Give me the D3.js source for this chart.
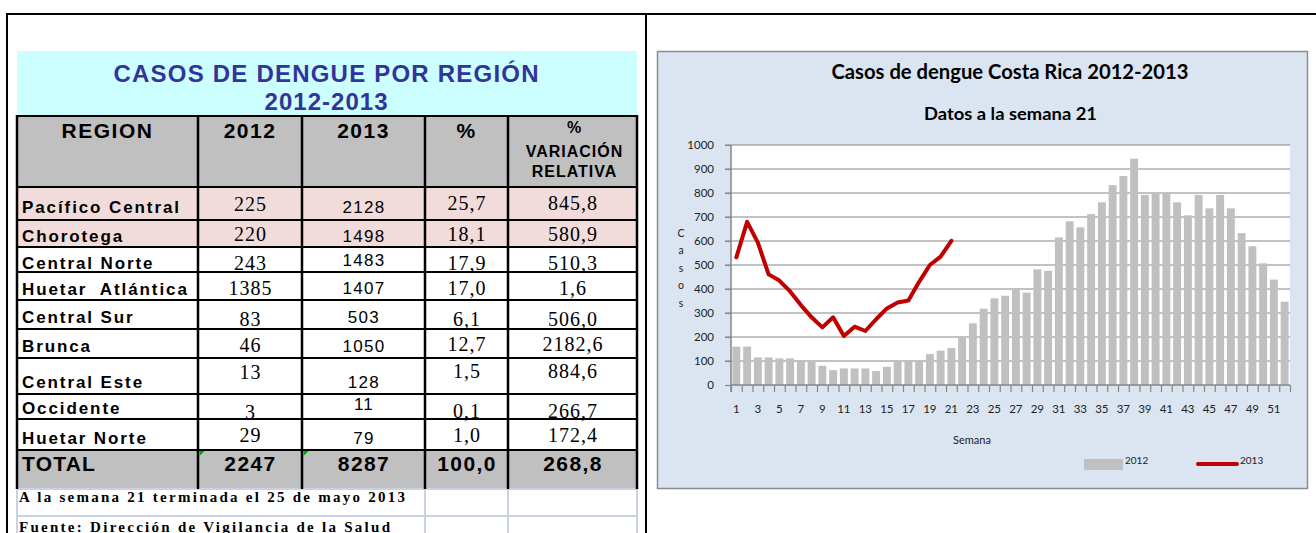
<!DOCTYPE html>
<html>
<head>
<meta charset="utf-8">
<script src="https://cdn.jsdelivr.net/npm/d3@7"></script>
<style>
  html, body { margin: 0; padding: 0; background: #fff; }
  svg { display: block; }
</style>
</head>
<body>
<div id="chart"></div>
<script>
// ---- table data (read from the sheet) ----
const regions = ["Pacífico Central", "Chorotega", "Central Norte", "Huetar  Atlántica", "Central Sur",
                 "Brunca", "Central Este", "Occidente", "Huetar Norte"];
const cases2012 = [225, 220, 243, 1385, 83, 46, 13, 3, 29];
const cases2013 = [2128, 1498, 1483, 1407, 503, 1050, 128, 11, 79];
const pct2013 = ["25,7", "18,1", "17,9", "17,0", "6,1", "12,7", "1,5", "0,1", "1,0"];
const variation = ["845,8", "580,9", "510,3", "1,6", "506,0", "2182,6", "884,6", "266,7", "172,4"];
const totalRow = ["TOTAL", "2247", "8287", "100,0", "268,8"];
const headers = ["REGION", "2012", "2013", "%"];
const headerVar = ["%", "VARIACIÓN", "RELATIVA"];
const notes = ["A la semana 21 terminada el 25 de mayo 2013", "Fuente: Dirección de Vigilancia de la Salud"];

// ---- chart data ----
const weeks = d3.range(1, 53);
const series2012 = [160, 160, 115, 115, 111, 111, 100, 97, 80, 62,
                    69, 69, 69, 58, 76, 100, 104, 97, 129, 143,
                    154, 199, 257, 318, 361, 372, 403, 385, 482, 476,
                    615, 682, 657, 712, 761, 833, 871, 943, 792, 799,
                    799, 761, 707, 792, 736, 792, 736, 633, 578, 507,
                    439, 347];
const series2013 = [532, 680, 593, 461, 435, 390, 333, 282, 240, 282,
                    204, 243, 225, 274, 319, 344, 352, 430, 500, 535, 601];
const yTicks = d3.range(0, 1001, 100);
const xLabels = weeks.filter(w => w % 2 === 1);

const W = 1316, H = 533;
const SANS = "'Liberation Sans', Arial, sans-serif";
const SERIF = "'Liberation Serif', 'Times New Roman', serif";
const CAL = "Lato, 'Open Sans', sans-serif";

const svg = d3.select("#chart").append("svg")
    .attr("width", W)
    .attr("height", H);

svg.append("rect").attr("width", W).attr("height", H).attr("fill", "#fff");

// ================= TABLE =================
const colX = [17, 198, 302, 425, 508, 637];
const rowY = [187, 220, 247, 272, 300, 329, 358, 394, 419, 450, 489];
// baseline offset from row bottom: [name, 2012, 2013, %, var]
const baseOff = [
    [7, 9, 7, 10, 10],
    [5, 6, 5, 6, 6],
    [3.5, 2.5, 6, 2.5, 2.5],
    [5, 5, 6, 5, 5],
    [6.5, 3, 6, 3, 3],
    [6, 6, 6, 7, 7],
    [6, 15, 6, 16, 16],
    [5.5, 0.5, 9, 1, 1],
    [6.5, 8.5, 6.5, 8.5, 8.5],
    [18.5, 18.5, 18.5, 18.5, 18.5]
];
const colMid = i => (colX[i] + colX[i + 1]) / 2;

const table = svg.append("g");

// fills
table.append("rect").attr("x", 17).attr("y", 51).attr("width", 620).attr("height", 65).attr("fill", "#ccffff");
table.append("rect").attr("x", 17).attr("y", 116).attr("width", 620).attr("height", 71).attr("fill", "#c0c0c0");
table.append("rect").attr("x", 17).attr("y", rowY[0]).attr("width", 620).attr("height", rowY[2] - rowY[0]).attr("fill", "#f2dcdb");
table.append("rect").attr("x", 17).attr("y", rowY[9]).attr("width", 620).attr("height", rowY[10] - rowY[9]).attr("fill", "#c0c0c0");

// light grid under the table (notes rows)
const light = "#c8d2e4";
[489, 516].forEach(y => table.append("line")
    .attr("x1", 17).attr("x2", 637).attr("y1", y).attr("y2", y)
    .attr("stroke", light).attr("stroke-width", 2));
[17, 425, 508, 637].forEach(x => table.append("line")
    .attr("x1", x).attr("x2", x).attr("y1", 489).attr("y2", H)
    .attr("stroke", light).attr("stroke-width", 2));

// black borders
[116, 187].concat(rowY.slice(1, 10)).forEach(y => table.append("line")
    .attr("x1", 16).attr("x2", 638).attr("y1", y).attr("y2", y)
    .attr("stroke", "#000").attr("stroke-width", 2));
colX.forEach(x => table.append("line")
    .attr("x1", x).attr("x2", x).attr("y1", 115).attr("y2", 489)
    .attr("stroke", "#000").attr("stroke-width", 2.5));

// green markers on total cells
[1, 2].forEach(i => table.append("path")
    .attr("d", `M${colX[i] + 1.5},${rowY[9] + 1} h5 l-5,5 z`)
    .attr("fill", "#00a000"));

// outer frame
svg.append("line").attr("x1", 6).attr("x2", W).attr("y1", 14).attr("y2", 14).attr("stroke", "#000").attr("stroke-width", 2);
svg.append("line").attr("x1", 7).attr("x2", 7).attr("y1", 14).attr("y2", H).attr("stroke", "#000").attr("stroke-width", 2);
svg.append("line").attr("x1", 646).attr("x2", 646).attr("y1", 14).attr("y2", H).attr("stroke", "#000").attr("stroke-width", 2);

// title
table.append("text").attr("x", 326).attr("y", 82)
    .attr("text-anchor", "middle")
    .style("font-family", SANS).style("font-weight", "bold").style("font-size", "24px")
    .attr("fill", "#333399")
    .attr("textLength", 425).attr("lengthAdjust", "spacing")
    .text("CASOS DE DENGUE POR REGIÓN");
table.append("text").attr("x", 326).attr("y", 110)
    .attr("text-anchor", "middle")
    .style("font-family", SANS).style("font-weight", "bold").style("font-size", "24px")
    .attr("fill", "#333399")
    .attr("textLength", 123).attr("lengthAdjust", "spacing")
    .text("2012-2013");

// headers
headers.forEach((h, i) => table.append("text")
    .attr("x", colMid(i)).attr("y", 137.5)
    .attr("text-anchor", "middle")
    .style("font-family", SANS).style("font-weight", "bold").style("font-size", "21px")
    .style("letter-spacing", "1.5px")
    .text(h));
headerVar.forEach((h, i) => table.append("text")
    .attr("x", colMid(4) + 2).attr("y", [133, 157, 177][i])
    .attr("text-anchor", "middle")
    .style("font-family", SANS).style("font-weight", "bold").style("font-size", "16px")
    .style("letter-spacing", "1px")
    .text(h));

// body rows
const rows = regions.map((r, i) => [r, String(cases2012[i]), String(cases2013[i]), pct2013[i], variation[i]]);

rows.forEach((row, r) => {
    const bottom = rowY[r + 1];
    row.forEach((val, c) => {
        const t = table.append("text").attr("y", bottom - baseOff[r][c]).text(val);
        if (c === 0) {
            t.attr("x", 22)
                .style("font-family", SANS).style("font-weight", "bold").style("font-size", "17px")
                .style("letter-spacing", "1.9px").style("white-space", "pre");
        } else if (c === 2) {
            t.attr("x", colMid(c) + 0.5).attr("text-anchor", "middle")
                .style("font-family", SANS).style("font-size", "17px").style("letter-spacing", "1.3px");
        } else {
            t.attr("x", colMid(c) + 0.5).attr("text-anchor", "middle")
                .style("font-family", SERIF).style("font-size", "20px").style("letter-spacing", "1px");
        }
    });
});

// total row
totalRow.forEach((val, c) => {
    table.append("text")
        .attr("x", c === 0 ? 22 : colMid(c) + 0.5)
        .attr("y", rowY[10] - baseOff[9][c])
        .attr("text-anchor", c === 0 ? "start" : "middle")
        .style("font-family", SANS).style("font-weight", "bold").style("font-size", "21px")
        .style("letter-spacing", c === 0 ? "1.2px" : "1.4px")
        .text(val);
});

// notes
notes.forEach((n, i) => table.append("text")
    .attr("x", 19).attr("y", [502, 531.5][i])
    .style("font-family", SERIF).style("font-weight", "bold").style("font-size", "15px")
    .attr("textLength", [386, 371][i]).attr("lengthAdjust", "spacing")
    .text(n));

// ================= CHART =================
const panel = { x: 657.5, y: 51.5, w: 650, h: 437 };
svg.append("rect")
    .attr("x", panel.x).attr("y", panel.y).attr("width", panel.w).attr("height", panel.h)
    .attr("fill", "#dbe5f1").attr("stroke", "#8c8c8c").attr("stroke-width", 1.5);

const plot = { left: 731, right: 1290, top: 145, bottom: 385 };

const y = d3.scaleLinear().domain([0, 1000]).range([plot.bottom, plot.top]);
const xEdge = d3.scaleLinear().domain([0, 52]).range([plot.left, plot.right]);
const x = d3.scaleBand().domain(weeks).range([plot.left, plot.right])
    .paddingInner(0.26).paddingOuter(0.13);
const xMid = w => x(w) + x.bandwidth() / 2;

const g = svg.append("g");

g.append("rect")
    .attr("x", plot.left).attr("y", plot.top)
    .attr("width", plot.right - plot.left).attr("height", plot.bottom - plot.top)
    .attr("fill", "#fff");

// gridlines
g.append("g")
    .selectAll("line")
    .data(yTicks.filter(d => d > 0))
    .join("line")
    .attr("x1", plot.left - 6).attr("x2", plot.right)
    .attr("y1", d => y(d)).attr("y2", d => y(d))
    .attr("stroke", "#868686").attr("stroke-width", 1.2);

// bars 2012
g.append("g")
    .selectAll("rect")
    .data(series2012)
    .join("rect")
    .attr("x", (d, i) => x(weeks[i]))
    .attr("y", d => y(d))
    .attr("width", x.bandwidth())
    .attr("height", d => y(0) - y(d))
    .attr("fill", "#c0c0c0");

// y axis
const yAxis = g.append("g")
    .attr("transform", `translate(${plot.left},0)`)
    .call(d3.axisLeft(y).tickValues(yTicks).tickFormat(d3.format("d"))
        .tickSize(6).tickPadding(11).tickSizeOuter(0));
yAxis.select(".domain").attr("stroke", "#868686").attr("stroke-width", 1.5)
    .attr("d", `M0,${plot.top}V${plot.bottom + 7}`);
yAxis.selectAll(".tick line").attr("stroke", "#868686").attr("stroke-width", 1.2);
yAxis.selectAll(".tick text")
    .style("font-family", CAL).style("font-size", "11.5px").attr("fill", "#222");

// x axis: boundary ticks
const xTicks = g.append("g")
    .attr("transform", `translate(0,${plot.bottom})`)
    .call(d3.axisBottom(xEdge).tickValues(d3.range(0, 53)).tickSize(7).tickFormat("").tickSizeOuter(0));
xTicks.select(".domain").attr("stroke", "#868686").attr("stroke-width", 1.5)
    .attr("d", `M${plot.left},0H${plot.right}`);
xTicks.selectAll(".tick line").attr("stroke", "#868686").attr("stroke-width", 1.2);

// x axis labels
const xLab = g.append("g")
    .attr("transform", `translate(0,${plot.bottom})`)
    .call(d3.axisBottom(x).tickValues(xLabels).tickSize(0).tickPadding(20));
xLab.select(".domain").remove();
xLab.selectAll(".tick text")
    .style("font-family", CAL).style("font-size", "11.5px").attr("fill", "#222");

// line 2013
const line = d3.line()
    .x((d, i) => xMid(weeks[i]))
    .y(d => y(d));
g.append("path")
    .datum(series2013)
    .attr("d", line)
    .attr("fill", "none")
    .attr("stroke", "#c00000")
    .attr("stroke-width", 4)
    .attr("stroke-linejoin", "round")
    .attr("stroke-linecap", "round");

// titles
g.append("text").attr("x", 831.5).attr("y", 79)
    .style("font-family", CAL).style("font-weight", "bold").style("font-size", "20px")
    .attr("textLength", 357).attr("lengthAdjust", "spacingAndGlyphs")
    .text("Casos de dengue Costa Rica 2012-2013");
g.append("text").attr("x", 924).attr("y", 120)
    .style("font-family", CAL).style("font-weight", "bold").style("font-size", "16.5px")
    .attr("textLength", 173).attr("lengthAdjust", "spacingAndGlyphs")
    .text("Datos a la semana 21");

// y axis label, stacked letters
g.append("g")
    .selectAll("text")
    .data("Casos".split(""))
    .join("text")
    .attr("x", 681).attr("y", (d, i) => 236.5 + i * 17.6)
    .attr("text-anchor", "middle")
    .style("font-family", CAL).style("font-size", "10.5px").attr("fill", "#222")
    .text(d => d);

g.append("text").attr("x", 972).attr("y", 444)
    .attr("text-anchor", "middle")
    .style("font-family", CAL).style("font-size", "11px").attr("fill", "#222")
    .text("Semana");

// legend
const legendItems = [
    { label: "2012", type: "bar", x: 1084 },
    { label: "2013", type: "line", x: 1197 }
];
const legend = g.append("g");
legendItems.forEach(item => {
    const lg = legend.append("g").attr("transform", `translate(${item.x},464)`);
    if (item.type === "bar") {
        lg.append("rect").attr("x", 0).attr("y", -5).attr("width", 39).attr("height", 11).attr("fill", "#c0c0c0");
    } else {
        lg.append("line").attr("x1", 1).attr("x2", 40).attr("y1", 0).attr("y2", 0)
            .attr("stroke", "#c00000").attr("stroke-width", 4).attr("stroke-linecap", "round");
    }
    lg.append("text").attr("x", item.type === "bar" ? 41 : 43).attr("y", 0)
        .style("font-family", CAL).style("font-size", "10px").attr("fill", "#222")
        .text(item.label);
});
</script>
</body>
</html>
